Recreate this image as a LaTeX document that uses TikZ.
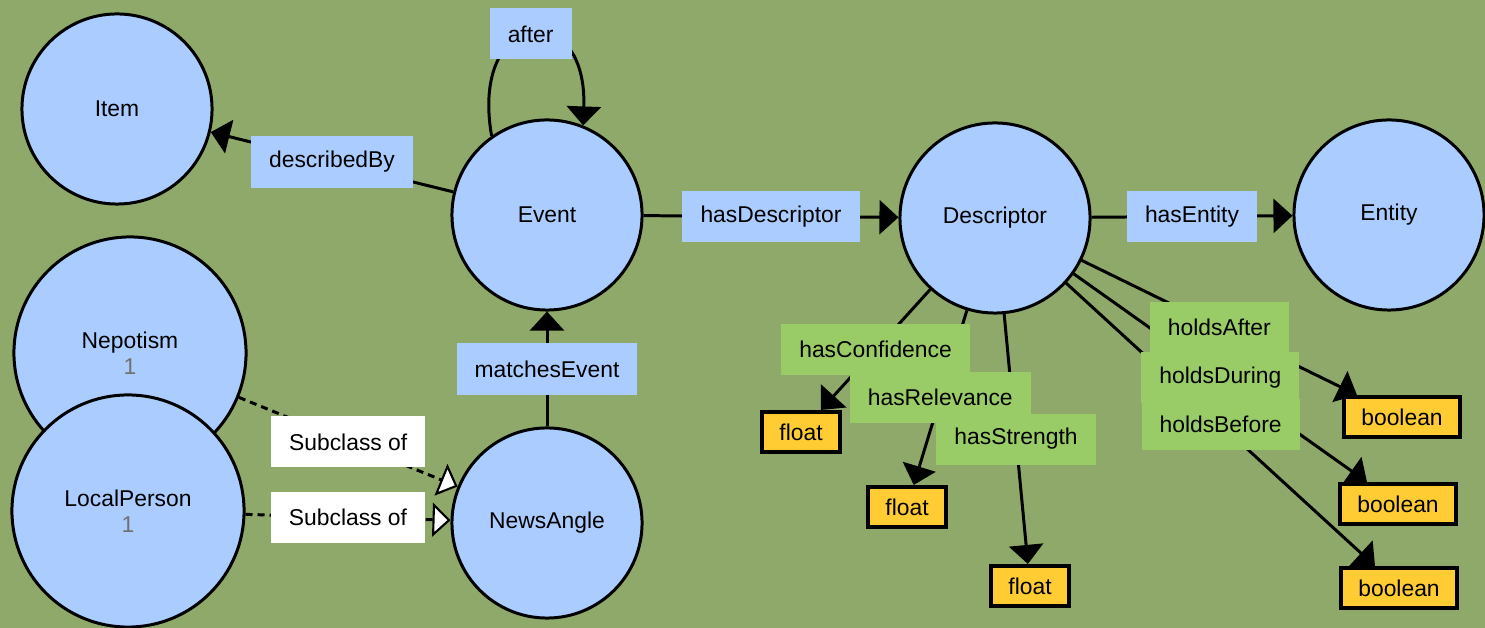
\documentclass[tikz,border=0pt]{standalone}
\usepackage{fontspec}
\setmainfont{Liberation Sans}
\usetikzlibrary{arrows.meta,positioning}
\definecolor{bggreen}{HTML}{8FA96A}
\definecolor{classblue}{HTML}{AACCFF}
\definecolor{propgreen}{HTML}{99CC66}
\definecolor{dtyellow}{HTML}{FFCC33}
\definecolor{numgray}{HTML}{707070}
\tikzset{font=\fontsize{6.5}{7.5}\selectfont}
\tikzstyle{cls}=[circle,draw=black,fill=classblue,line width=0.85pt,minimum size=1.9cm,inner sep=0pt,align=center]
\tikzstyle{bigcls}=[cls,minimum size=2.32cm]
\tikzstyle{objlbl}=[fill=classblue,inner xsep=0.18cm,minimum height=0.51cm]
\tikzstyle{datlbl}=[objlbl,fill=propgreen]
\tikzstyle{sublbl}=[objlbl,fill=white]
\tikzstyle{dtype}=[draw=black,fill=dtyellow,line width=1.1pt,inner xsep=0.17cm,minimum height=0.39cm]
\tikzstyle{lblpos}=[coordinate,midway]

\begin{document}
\begin{tikzpicture}
  [x=0.01cm,y=-0.01cm]
\useasboundingbox (0,0) rectangle (1485,628);
\fill[bggreen] (0,0) rectangle (1485,628);
\node[cls] (it) at (117,109) {Item};
\node[cls] (ev) at (547,215) {Event};
\node[cls] (ds) at (995,218) {Descriptor};
\node[cls] (en) at (1389,215) {Entity};
\node[cls] (na) at (547,523) {NewsAngle};
\node[bigcls] (np) at (130,353) {Nepotism\\{\color{numgray}1}};
\node[bigcls] (lp) at (128,511) {LocalPerson\\{\color{numgray}1}};
\node[dtype] (f1) at (801,432) {float};
\node[dtype] (f2) at (907,507) {float};
\node[dtype] (f3) at (1030,586) {float};
\node[dtype] (b1) at (1402,417) {boolean};
\node[dtype] (b2) at (1398,504) {boolean};
\node[dtype] (b3) at (1399,588) {boolean};
\path[->,>={Triangle[length=0.19cm,width=0.34cm]},line width=0.85pt]
(ev) edge node[lblpos] (mdesc) {} (it)
(ev.125) edge[out=100,in=88,distance=1.3cm] node[lblpos] (maft) {} (ev.68)
(ev) edge node[lblpos] (mhdes) {} (ds)
(ds) edge node[lblpos] (ment) {} (en)
(na) edge node[lblpos] (mmat) {} (ev)
(ds) edge node[lblpos] (mconf) {} (f1)
(ds) edge node[lblpos] (mrel) {} (f2)
(ds) edge node[lblpos] (mstr) {} (f3)
(ds) edge node[lblpos] (maftr) {} (b1)
(ds) edge node[lblpos] (mdur) {} (b2)
(ds) edge node[lblpos] (mbef) {} (b3);
\path[-{Triangle[fill=white,line width=0.6pt,length=0.18cm,width=0.34cm]},line width=0.85pt,dash pattern=on 0.07cm off 0.05cm]
(np) edge node[lblpos] (msub1) {} (na)
(lp) edge node[lblpos] (msub2) {} (na);
\node[objlbl] at (mdesc) {describedBy};
\node[objlbl] at (maft) {after};
\node[objlbl] at (mhdes) {hasDescriptor};
\node[objlbl] at (ment) {hasEntity};
\node[objlbl] at (mmat) {matchesEvent};
\node[sublbl] at (msub1) {Subclass of};
\node[sublbl] at (msub2) {Subclass of};
\node[datlbl] at (mconf) {hasConfidence};
\node[datlbl] at (mrel) {hasRelevance};
\node[datlbl] at (mstr) {hasStrength};
\node[datlbl] at (maftr) {holdsAfter};
\node[datlbl] at (mdur) {holdsDuring};
\node[datlbl] at (mbef) {holdsBefore};
\end{tikzpicture}
\end{document}
